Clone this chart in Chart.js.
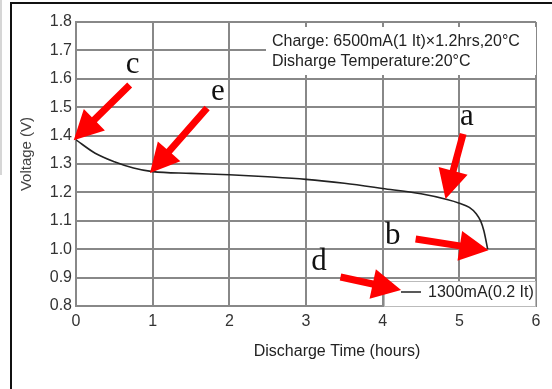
<!DOCTYPE html>
<html>
<head>
<meta charset="utf-8">
<script src="https://cdn.jsdelivr.net/npm/chart.js@4/dist/chart.umd.min.js"></script>
<style>
  body { margin: 0; background: #fff; }
  canvas { display: block; }
</style>
</head>
<body>
<canvas id="chartDis" width="552" height="389"></canvas>
<script>
// discharge curve
const hours = [0, 0.25, 0.5, 0.75, 1.0, 1.5, 2.0, 2.5, 3.0, 3.5, 4.0, 4.5, 4.84, 5.0, 5.13, 5.22, 5.28, 5.32, 5.37];
const volts = [1.385, 1.338, 1.308, 1.286, 1.273, 1.267, 1.262, 1.255, 1.246, 1.232, 1.214, 1.195, 1.175, 1.162, 1.147, 1.125, 1.098, 1.065, 1.0];
const seriesLabel = '1300mA(0.2 It)';
const noteLines = ['Charge: 6500mA(1 It)\u00d71.2hrs,20\u00b0C', 'Disharge Temperature:20\u00b0C'];
const xTitle = 'Discharge Time (hours)';
const yTitle = 'Voltage (V)';

// red arrows (tail -> tip) and letters, in data units
const arrowTails = [[0.70, 1.578], [1.71, 1.497], [5.05, 1.406], [4.43, 1.036], [3.45, 0.902]];
const arrowTips = [[-0.03, 1.384], [0.965, 1.268], [4.82, 1.177], [5.38, 0.996], [4.24, 0.856]];
const letters = ['c', 'e', 'a', 'b', 'd'];
const letterPos = [[0.74, 1.649], [1.85, 1.553], [5.10, 1.465], [4.13, 1.046], [3.17, 0.955]];

const font = "'Liberation Sans', Arial, sans-serif";
const gridColor = '#888';

function drawArrow(ctx, x1, y1, x2, y2) {
    const a = Math.atan2(y2 - y1, x2 - x1);
    const headLen = 29, headHalf = 15, shaft = 3.5;
    const bx = x2 - Math.cos(a) * headLen, by = y2 - Math.sin(a) * headLen;
    const nx = -Math.sin(a), ny = Math.cos(a);
    ctx.beginPath();
    ctx.moveTo(x1 + nx * shaft, y1 + ny * shaft);
    ctx.lineTo(bx + nx * shaft, by + ny * shaft);
    ctx.lineTo(bx + nx * headHalf, by + ny * headHalf);
    ctx.lineTo(x2, y2);
    ctx.lineTo(bx - nx * headHalf, by - ny * headHalf);
    ctx.lineTo(bx - nx * shaft, by - ny * shaft);
    ctx.lineTo(x1 - nx * shaft, y1 - ny * shaft);
    ctx.closePath();
    ctx.fill();
}

const extras = {
    id: 'extras',
    beforeDraw(chart) {
        const ctx = chart.ctx;
        ctx.save();
        ctx.fillStyle = '#fff';
        ctx.fillRect(0, 0, chart.width, chart.height);
        ctx.strokeStyle = '#c8c8c8';
        ctx.lineWidth = 1.5;
        ctx.beginPath(); ctx.moveTo(1, 0); ctx.lineTo(1, 175); ctx.stroke();
        ctx.strokeStyle = '#111';
        ctx.lineWidth = 2;
        ctx.beginPath();
        ctx.moveTo(11, 389); ctx.lineTo(11, 3); ctx.lineTo(552, 3);
        ctx.stroke();
        // axis titles, placed where the original has them
        ctx.fillStyle = '#222';
        ctx.font = '16px ' + font;
        ctx.textAlign = 'center';
        ctx.textBaseline = 'middle';
        ctx.fillText(xTitle, 337, 352);
        ctx.fillStyle = '#444';
        ctx.font = '15px ' + font;
        ctx.translate(27, 154);
        ctx.rotate(-Math.PI / 2);
        ctx.fillText(yTitle, 0, 0);
        ctx.restore();
    },
    afterDatasetsDraw(chart) {
        const ctx = chart.ctx;
        const xs = chart.scales.x, ys = chart.scales.y;
        ctx.save();
        // note box top right
        ctx.fillStyle = '#fff';
        ctx.fillRect(266, 27, 270, 48);
        ctx.fillStyle = '#222';
        ctx.font = '16px ' + font;
        ctx.textBaseline = 'middle';
        ctx.textAlign = 'left';
        ctx.fillText(noteLines[0], 272, 42);
        ctx.fillText(noteLines[1], 272, 62);
        // series key bottom right
        ctx.fillStyle = '#fff';
        ctx.fillRect(384, 281, 152, 26);
        ctx.strokeStyle = '#bbb';
        ctx.lineWidth = 1;
        ctx.strokeRect(384.5, 281.5, 151, 25);
        ctx.strokeStyle = '#222';
        ctx.lineWidth = 1.5;
        ctx.beginPath(); ctx.moveTo(401, 292); ctx.lineTo(421, 292); ctx.stroke();
        ctx.fillStyle = '#222';
        ctx.fillText(chart.data.datasets[0].label, 428, 293);
        // arrows
        ctx.fillStyle = '#ff0000';
        arrowTails.forEach((t, i) => {
            const h = arrowTips[i];
            drawArrow(ctx, xs.getPixelForValue(t[0]), ys.getPixelForValue(t[1]),
                xs.getPixelForValue(h[0]), ys.getPixelForValue(h[1]));
        });
        // letters
        ctx.fillStyle = '#111';
        ctx.font = "31px 'Liberation Serif', 'Times New Roman', serif";
        ctx.textAlign = 'center';
        letters.forEach((s, i) => {
            ctx.fillText(s, xs.getPixelForValue(letterPos[i][0]), ys.getPixelForValue(letterPos[i][1]));
        });
        ctx.restore();
    }
};

const ctxDis = document.getElementById('chartDis').getContext('2d');
const chartDis = new Chart(ctxDis, {
    type: 'line',
    data: {
        datasets: [{
            label: seriesLabel,
            data: hours.map((h, i) => ({ x: h, y: volts[i] })),
            borderColor: '#222',
            borderWidth: 1.6,
            pointRadius: 0,
            fill: false,
            cubicInterpolationMode: 'monotone'
        }]
    },
    options: {
        responsive: false,
        animation: false,
        layout: {
            padding: { left: 13, top: 22, right: 16, bottom: 25 }
        },
        plugins: {
            legend: { display: false },
            tooltip: { enabled: false }
        },
        scales: {
            x: {
                type: 'linear',
                min: 0,
                max: 6,
                ticks: {
                    stepSize: 1,
                    padding: 6,
                    color: '#333',
                    font: { family: font, size: 16 }
                },
                grid: { color: gridColor, lineWidth: 2, drawTicks: false },
                border: { color: gridColor, width: 2 },
                afterFit(scale) { scale.height = 58; }
            },
            y: {
                min: 0.8,
                max: 1.8,
                ticks: {
                    stepSize: 0.1,
                    padding: 4,
                    color: '#333',
                    font: { family: font, size: 16 },
                    callback: v => v.toFixed(1)
                },
                grid: { color: gridColor, lineWidth: 2, drawTicks: false },
                border: { color: gridColor, width: 2 },
                afterFit(scale) { scale.width = 63; }
            }
        }
    },
    plugins: [extras]
});
</script>
</body>
</html>
